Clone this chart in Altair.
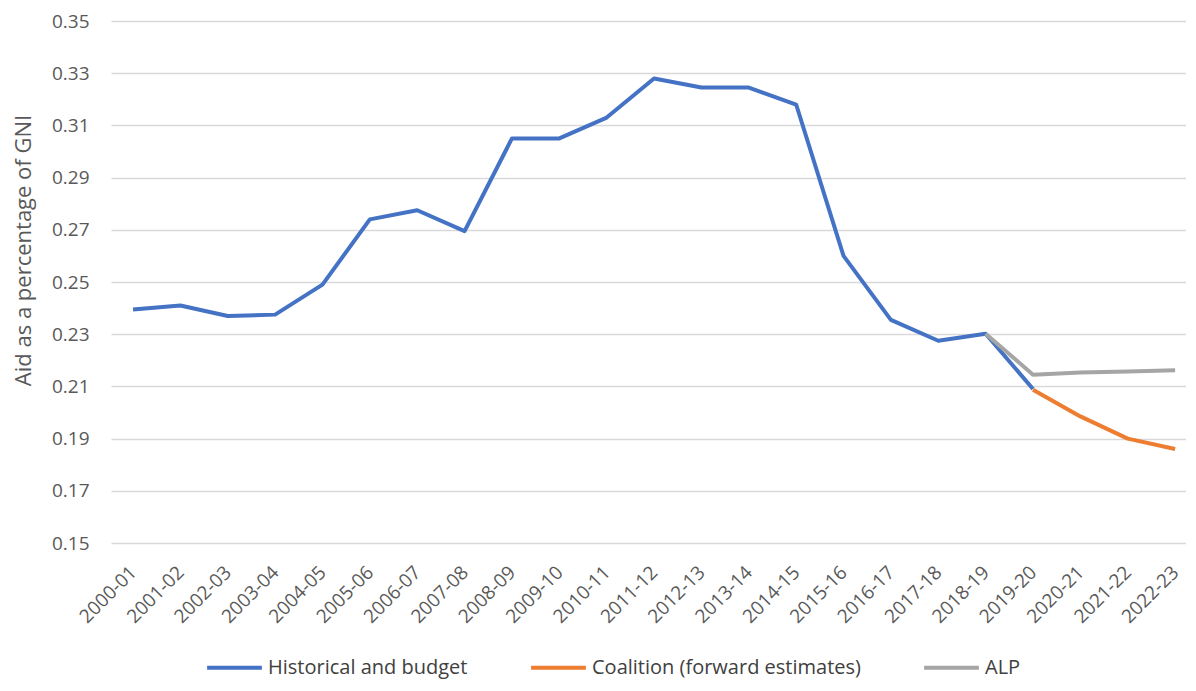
import altair as alt
import pandas as pd
import json

years = ["2000-01", "2001-02", "2002-03", "2003-04", "2004-05", "2005-06", "2006-07",
         "2007-08", "2008-09", "2009-10", "2010-11", "2011-12", "2012-13", "2013-14",
         "2014-15", "2015-16", "2016-17", "2017-18", "2018-19", "2019-20", "2020-21",
         "2021-22", "2022-23"]

historical = [0.2395, 0.241, 0.237, 0.2375, 0.249, 0.274, 0.2775, 0.2695, 0.305, 0.305,
              0.313, 0.328, 0.3245, 0.3245, 0.318, 0.260, 0.2355, 0.2275, 0.2302, 0.209]
coalition_years = ["2019-20", "2020-21", "2021-22", "2022-23"]
coalition = [0.2087, 0.1985, 0.190, 0.186]
alp_years = ["2018-19", "2019-20", "2020-21", "2021-22", "2022-23"]
alp = [0.2302, 0.2145, 0.2153, 0.2157, 0.2162]

series_names = ["Historical and budget", "Coalition (forward estimates)", "ALP"]
colors = ["#4472C4", "#ED7D31", "#A5A5A5"]

rows = []
for y, v in zip(years[:len(historical)], historical):
    rows.append({"year": y, "idx": years.index(y), "value": v, "series": series_names[0], "order": 0})
for y, v in zip(coalition_years, coalition):
    rows.append({"year": y, "idx": years.index(y), "value": v, "series": series_names[1], "order": 1})
for y, v in zip(alp_years, alp):
    rows.append({"year": y, "idx": years.index(y), "value": v, "series": series_names[2], "order": 2})
df = pd.DataFrame(rows)

FONT = "Open Sans"
TXT = "#595959"
years_js = json.dumps(years)

chart = alt.Chart(df).mark_line(strokeWidth=4, strokeJoin="round", strokeCap="butt").encode(
    x=alt.X("idx:Q", scale=alt.Scale(domain=[-0.4645, 22.23], nice=False, zero=False),
            axis=alt.Axis(title=None, values=list(range(len(years))),
                          labelExpr=f"{years_js}[datum.value]",
                          labelAngle=-45, labelAlign="right", labelBaseline="middle",
                          labelFontSize=19, labelColor=TXT, labelOverlap=False, labelFlush=False,
                          labelFont=FONT, ticks=False, domain=False, labelPadding=26,
                          grid=False)),
    y=alt.Y("value:Q", scale=alt.Scale(domain=[0.15, 0.35], nice=False, zero=False),
            axis=alt.Axis(title="Aid as a percentage of GNI", values=[0.15 + 0.02 * i for i in range(11)],
                          format=".2f", labelFontSize=19, labelColor=TXT, labelFont=FONT,
                          ticks=False, domain=False, labelPadding=22,
                          titleFontSize=22, titleFont=FONT, titleColor=TXT,
                          titleFontWeight="normal", titlePadding=16, titleY=229,
                          gridColor="#D9D9D9", gridWidth=1.5)),
    color=alt.Color("series:N", sort=series_names,
                    scale=alt.Scale(domain=series_names, range=colors),
                    legend=alt.Legend(title=None, orient="none", direction="horizontal",
                                      legendX=94, legendY=617, symbolType="stroke",
                                      symbolSize=3000, symbolStrokeWidth=4,
                                      labelFontSize=20, labelFont=FONT, labelColor="#404040",
                                      labelLimit=0, columnPadding=55, labelOffset=4)),
    order=alt.Order("order:Q"),
    detail="series:N",
).properties(
    width=1075, height=522,
    autosize=alt.AutoSizeParams(type="none"),
    padding={"left": 103, "top": 13, "right": 0, "bottom": 136},
).configure_view(stroke=None)

chart.save("out.html", embed_options={"renderer": "svg", "actions": False})
